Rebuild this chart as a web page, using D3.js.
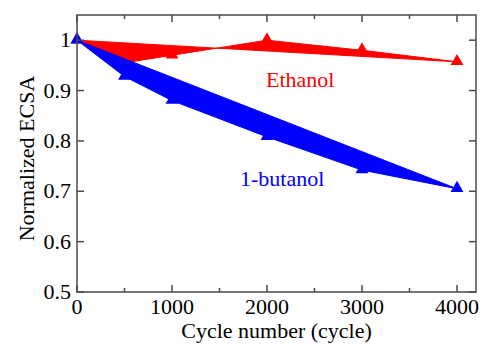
<!DOCTYPE html>
<html>
<head>
<meta charset="utf-8">
<script src="https://cdn.jsdelivr.net/npm/d3@7"></script>
<style>
  body { margin: 0; background: #fff; }
</style>
</head>
<body>
<div id="container"></div>
<script>
// cycles where ECSA was measured
const cycles = [0, 500, 1000, 2000, 3000, 4000];
const ethanol = [1.0, 0.955, 0.97, 1.0, 0.98, 0.957];
const butanol = [1.0, 0.928, 0.88, 0.808, 0.742, 0.705];

const x_ticks = [0, 1000, 2000, 3000, 4000];
const x_minor = [500, 1500, 2500, 3500];
const y_ticks = [0.5, 0.6, 0.7, 0.8, 0.9, 1.0];

const width = 487, height = 344;
const margin = {top: 15, right: 11, bottom: 52, left: 77};
const axis_col = "#4a4a4a";
const font = "'Liberation Serif', serif";

var svg = d3.select("#container").append("svg")
    .attr("width", width)
    .attr("height", height)
    .style("display", "block")
    .style("font-family", font);

var x = d3.scaleLinear()
    .domain([0, 4200])
    .range([margin.left, width - margin.right]);

var y = d3.scaleLinear()
    .domain([0.5, 1.05])
    .range([height - margin.bottom, margin.top]);

var poly = d3.line()
    .x(function(d){ return x(d[0]); })
    .y(function(d){ return y(d[1]); })
    .curve(d3.curveLinearClosed);

var tri = d3.symbol().type(d3.symbolTriangle).size(72);

// fill(x,y) style patch with triangle markers
var draw_series = function(vals, col){
    var pts = cycles.map(function(c, i){ return [c, vals[i]]; });
    svg.append("path")
	.attr("d", poly(pts))
	.style("fill", col)
	.style("stroke", col)
	.style("stroke-width", 1);

    svg.append("g").selectAll("path")
	.data(pts)
	.enter()
	.append("path")
	.attr("d", tri)
	.attr("transform", function(d){
	    return "translate(" + x(d[0]) + "," + (y(d[1]) - 0.5) + ")";
	})
	.style("fill", col);
};

draw_series(ethanol, "#ff0000");
draw_series(butanol, "#0000ff");

// frame
var x0 = x(0), x1 = x(4200), y0 = y(0.5), y1 = y(1.05);
svg.append("rect")
    .attr("x", x0).attr("y", y1)
    .attr("width", x1 - x0).attr("height", y0 - y1)
    .style("fill", "none")
    .style("stroke", axis_col)
    .style("stroke-width", 1.5);

// inward ticks on all four sides
var ticks = svg.append("g").style("stroke", axis_col).style("stroke-width", 1.5);
var major = 7, minor = 4;

x_ticks.forEach(function(t){
    ticks.append("line").attr("x1", x(t)).attr("x2", x(t)).attr("y1", y0).attr("y2", y0 - major);
    ticks.append("line").attr("x1", x(t)).attr("x2", x(t)).attr("y1", y1).attr("y2", y1 + major);
});
x_minor.forEach(function(t){
    ticks.append("line").attr("x1", x(t)).attr("x2", x(t)).attr("y1", y0).attr("y2", y0 - minor);
    ticks.append("line").attr("x1", x(t)).attr("x2", x(t)).attr("y1", y1).attr("y2", y1 + minor);
});
y_ticks.forEach(function(t){
    ticks.append("line").attr("x1", x0).attr("x2", x0 + major).attr("y1", y(t)).attr("y2", y(t));
    ticks.append("line").attr("x1", x1).attr("x2", x1 - major).attr("y1", y(t)).attr("y2", y(t));
});

var txt = svg.append("g")
    .style("font-family", font)
    .style("font-size", "22px");

// tick labels
txt.append("g").selectAll("text")
    .data(x_ticks)
    .enter()
    .append("text")
    .style("font-family", font)
    .attr("x", function(d){ return x(d); })
    .attr("y", y0 + 22)
    .attr("text-anchor", "middle")
    .text(function(d){ return d; });

txt.append("g").selectAll("text")
    .data(y_ticks)
    .enter()
    .append("text")
    .style("font-family", font)
    .attr("x", x0 - 6)
    .attr("y", function(d){ return y(d) + 7; })
    .attr("text-anchor", "end")
    .text(function(d){ return d === 1 ? "1" : d3.format(".1f")(d); });

// axis titles
txt.append("text")
    .style("font-family", font)
    .attr("x", (x0 + x1) / 2)
    .attr("y", height - 6)
    .attr("text-anchor", "middle")
    .text("Cycle number (cycle)");

txt.append("text")
    .style("font-family", font)
    .attr("transform", "translate(34," + ((y0 + y1) / 2 + 5) + ") rotate(-90)")
    .attr("text-anchor", "middle")
    .text("Normalized ECSA");

// series labels
txt.append("text")
    .style("font-family", font)
    .attr("x", x(2350)).attr("y", y(0.907))
    .attr("text-anchor", "middle")
    .style("fill", "#ff0000")
    .text("Ethanol");

txt.append("text")
    .style("font-family", font)
    .attr("x", x(2160)).attr("y", y(0.71))
    .attr("text-anchor", "middle")
    .style("fill", "#0000ff")
    .text("1-butanol");
</script>
</body>
</html>
